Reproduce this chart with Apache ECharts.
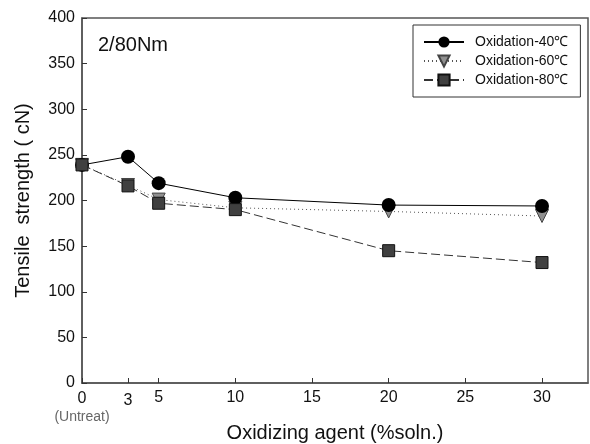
<!DOCTYPE html>
<html>
<head>
<meta charset="utf-8">
<script src="https://cdn.jsdelivr.net/npm/echarts@6/dist/echarts.min.js"></script>
<style>
  html, body { margin: 0; padding: 0; background: #fff; }
  #chart { width: 590px; height: 444px; }
</style>
</head>
<body>
<div id="chart"></div>
<script>
// concentrations (%soln.)
const concentrations = [0, 3, 5, 10, 20, 30]
const xTickValues = [0, 3, 5, 10, 15, 20, 25, 30]
// tensile strength (cN)
const ox40 = [239, 248, 219, 203, 195, 194]
const ox60 = [239, 217, 201, 192, 188, 183]
const ox80 = [239, 216, 197, 190, 145, 132]
const seriesNames = ['Oxidation-40℃', 'Oxidation-60℃', 'Oxidation-80℃']

const font = 'Liberation Sans, Arial, sans-serif'

function pairs (values) {
  return concentrations.map((x, i) => [x, values[i]])
}

const chart = echarts.init(document.getElementById('chart'))

chart.setOption({
  animation: false,
  grid: { left: 82, right: 2, top: 18, bottom: 61, outerBoundsMode: 'none', containLabel: false },
  legend: {
    orient: 'vertical',
    left: 413,
    top: 25,
    padding: [10, 12, 10, 10],
    itemWidth: 40,
    itemHeight: 14,
    itemGap: 5,
    borderColor: '#333',
    borderWidth: 1,
    textStyle: { fontFamily: font, fontSize: 14, color: '#111', padding: [0, 0, 0, 6] },
    data: seriesNames
  },
  xAxis: {
    type: 'value',
    min: 0,
    max: 33,
    name: 'Oxidizing agent (%soln.)',
    nameLocation: 'middle',
    nameGap: 40,
    nameMoveOverlap: false,
    nameTextStyle: { fontFamily: font, fontSize: 20, color: '#111' },
    axisLine: { lineStyle: { color: '#555', width: 1.5 } },
    splitLine: { show: false },
    axisTick: {
      inside: true,
      length: 5,
      customValues: xTickValues,
      lineStyle: { color: '#333' }
    },
    axisLabel: {
      margin: 7,
      customValues: xTickValues,
      fontFamily: font,
      fontSize: 16,
      color: '#111',
      formatter: v => v === 0 ? '{a|0}\n{b|(Untreat)}' : (v === 3 ? '{c|3}' : String(v)),
      rich: {
        a: { fontFamily: font, fontSize: 16, color: '#111', lineHeight: 18 },
        b: { fontFamily: font, fontSize: 14, color: '#666', lineHeight: 18 },
        c: { fontFamily: font, fontSize: 16, color: '#111', padding: [3, 0, 0, 0] }
      }
    }
  },
  yAxis: {
    type: 'value',
    min: 0,
    max: 400,
    interval: 50,
    name: 'Tensile  strength ( cN)',
    nameLocation: 'middle',
    nameGap: 49,
    nameMoveOverlap: false,
    nameTextStyle: { fontFamily: font, fontSize: 20, color: '#111' },
    axisLine: { show: true, lineStyle: { color: '#555', width: 1.5 } },
    splitLine: { show: false },
    axisTick: { show: true, inside: true, length: 5, lineStyle: { color: '#333' } },
    axisLabel: { margin: 7, fontFamily: font, fontSize: 16, color: '#111' }
  },
  series: [
    {
      name: seriesNames[0],
      type: 'line',
      data: pairs(ox40),
      symbol: 'circle',
      symbolSize: 14,
      itemStyle: { color: '#000' },
      lineStyle: { color: '#000', width: 1 },
      z: 4
    },
    {
      name: seriesNames[1],
      type: 'line',
      data: pairs(ox60),
      symbol: 'triangle',
      symbolRotate: 180,
      symbolSize: 13,
      itemStyle: { color: '#909090', borderColor: '#444', borderWidth: 1 },
      lineStyle: { color: '#555', width: 1, type: [1, 3] },
      z: 3
    },
    {
      name: seriesNames[2],
      type: 'line',
      data: pairs(ox80),
      symbol: 'rect',
      symbolSize: 12,
      itemStyle: { color: '#404040', borderColor: '#111', borderWidth: 1 },
      lineStyle: { color: '#333', width: 1, type: [9, 4] },
      z: 5
    }
  ],
  graphic: [{
    type: 'text',
    left: 98,
    top: 35,
    style: { text: '2/80Nm', fontFamily: font, fontSize: 20, fill: '#111' }
  }, {
    // plot frame: top and right borders
    type: 'rect',
    shape: { x: 82, y: 18, width: 506, height: 365 },
    style: { fill: 'none', stroke: '#555', lineWidth: 1.5 },
    silent: true,
    z: -1
  }]
})
</script>
</body>
</html>
